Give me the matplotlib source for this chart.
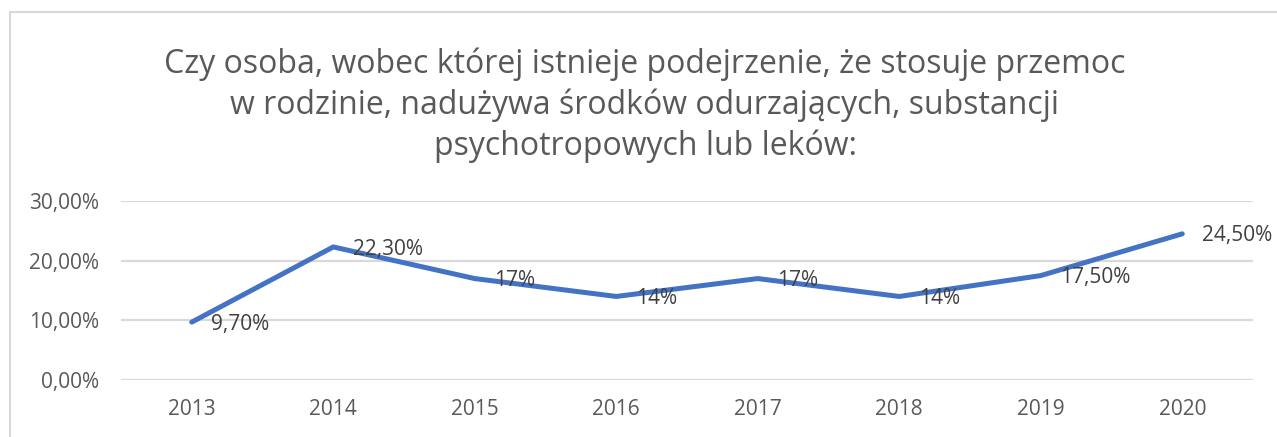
import matplotlib.pyplot as plt
from matplotlib.patches import Rectangle
from matplotlib.ticker import FuncFormatter

years = ['2013', '2014', '2015', '2016', '2017', '2018', '2019', '2020']
values = [9.7, 22.3, 17, 14, 17, 14, 17.5, 24.5]
point_labels = ['9,70%', '22,30%', '17%', '14%', '17%', '14%', '17,50%', '24,50%']
y_ticks = [0, 10, 20, 30]

title = ('Czy osoba, wobec której istnieje podejrzenie, że stosuje przemoc\n'
         'w rodzinie, nadużywa środków odurzających, substancji\n'
         'psychotropowych lub leków:')

plt.rcParams['font.family'] = ['Open Sans', 'DejaVu Sans']

fig = plt.figure(figsize=(12.77, 4.37), dpi=100)
# chart border (cut off at right and bottom)
fig.patches.append(Rectangle((10 / 1277, -0.1), 1.2, 1 - 12 / 437 + 0.1,
                             transform=fig.transFigure, fill=False,
                             edgecolor='#d9d9d9', linewidth=1.5))

ax = fig.add_axes([121 / 1277, 1 - 380 / 437, (1253 - 121) / 1277, (380 - 201) / 437])
x = range(len(years))
ax.plot(x, values, color='#4472c4', linewidth=3.6, solid_capstyle='round',
        solid_joinstyle='round', zorder=3)
for i, v in enumerate(values):
    ax.annotate(point_labels[i], (i, v), xytext=(14, -1.5), textcoords='offset points',
                ha='left', va='center', fontsize=15, color='#404040', zorder=4)

ax.set_xlim(-0.5, len(years) - 0.5)
ax.set_ylim(0, 30)
ax.set_yticks(y_ticks)
ax.yaxis.set_major_formatter(FuncFormatter(lambda v, p: f'{v:.2f}%'.replace('.', ',')))
ax.set_xticks(list(x))
ax.set_xticklabels(years)
ax.tick_params(length=0, labelsize=15, labelcolor='#595959')
ax.tick_params(axis='x', pad=14)
ax.tick_params(axis='y', pad=16)
ax.grid(axis='y', color='#d9d9d9', linewidth=1.6)
ax.set_axisbelow(True)
for s in ax.spines.values():
    s.set_visible(False)

fig.text(645 / 1277, 1 - 105 / 437, title, ha='center', va='center', fontsize=23,
         color='#595959', linespacing=1.3)

fig.savefig('out.png', dpi=100)
